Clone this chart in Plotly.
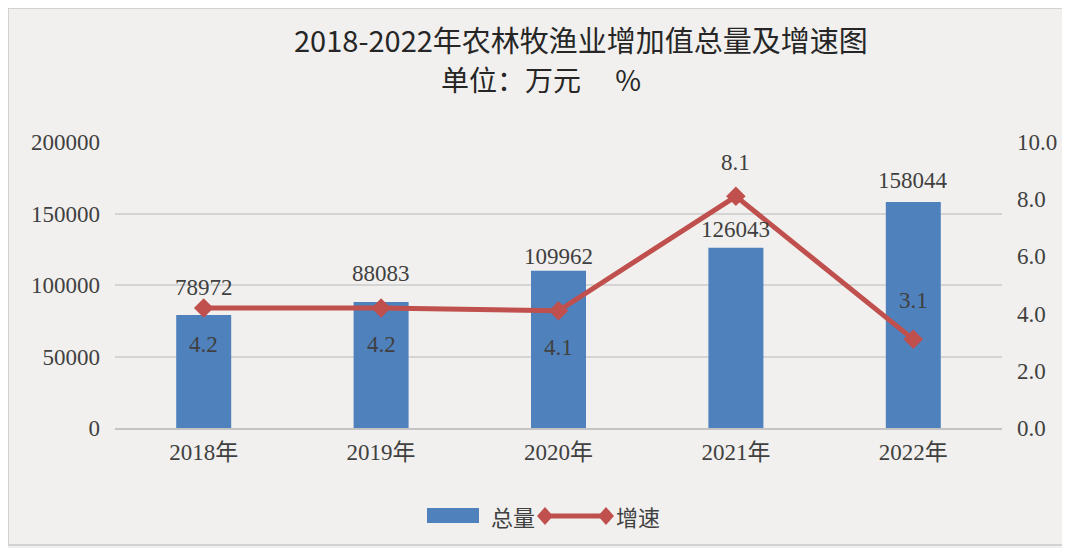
import plotly.graph_objects as go

# data
years = ["2018年", "2019年", "2020年", "2021年", "2022年"]
total = [78972, 88083, 109962, 126043, 158044]      # 万元
growth = [4.2, 4.2, 4.1, 8.1, 3.1]                   # %

# label offsets (px) as placed in the original
bar_label_shift = [28, 29, 14, 18, 22]
line_label_shift = [-37, -37, -37, 34, 39]

SERIF = "Liberation Serif, Times New Roman, Noto Sans CJK SC, serif"
CJK = "Noto Sans CJK SC, sans-serif"
TXT = "#404040"
BAR = "#4F81BD"
LINE = "#C0504D"

# page body adds an 8px margin, so the figure is 8px smaller than the window
W, H = 1062, 540
ML, MT, PW, PH = 107, 134, 887, 286


def px(x):   # figure pixel -> paper x
    return (x - ML) / PW


def py(y):   # figure pixel -> paper y
    return (MT + PH - y) / PH


fig = go.Figure()

fig.add_trace(go.Bar(
    x=years, y=total, name="总量",
    marker=dict(color=BAR, line=dict(width=0)),
    width=0.31,
))

fig.add_trace(go.Scatter(
    x=years, y=growth, name="增速", yaxis="y2",
    mode="lines+markers",
    line=dict(color=LINE, width=5),
    marker=dict(symbol="diamond", size=15, color=LINE),
))

annotations = []
for yr, v, s in zip(years, total, bar_label_shift):
    annotations.append(dict(
        x=yr, y=v, xref="x", yref="y", text=str(v), showarrow=False,
        yanchor="middle", yshift=s, font=dict(family=SERIF, size=23, color=TXT),
    ))
for yr, v, s in zip(years, growth, line_label_shift):
    annotations.append(dict(
        x=yr, y=v, xref="x", yref="y2", text=f"{v:.1f}", showarrow=False,
        yanchor="middle", yshift=s, font=dict(family=SERIF, size=23, color=TXT),
    ))

# two-line title
annotations.append(dict(
    x=px(573), y=py(31), xref="paper", yref="paper", showarrow=False,
    text="2018-2022年农林牧渔业增加值总量及增速图",
    font=dict(family=CJK, size=29, color="#262626"), yanchor="middle",
))
annotations.append(dict(
    x=px(533), y=py(71), xref="paper", yref="paper", showarrow=False,
    text="单位：万元　 %",
    font=dict(family=CJK, size=28, color="#262626"), yanchor="middle",
))

# hand-drawn legend (bar swatch + line with diamonds at both ends)
LEG_Y = 508
bar_name = fig.data[0].name
line_name = fig.data[1].name
annotations.append(dict(
    x=px(481), y=py(LEG_Y), xref="paper", yref="paper", showarrow=False,
    text=bar_name, xanchor="left", yanchor="middle",
    font=dict(family=CJK, size=22, color=TXT),
))
annotations.append(dict(
    x=px(606), y=py(LEG_Y), xref="paper", yref="paper", showarrow=False,
    text=line_name, xanchor="left", yanchor="middle",
    font=dict(family=CJK, size=22, color=TXT),
))


def diamond(cx, cy, hw=8, hh=9):
    pts = [(cx, cy - hh), (cx + hw, cy), (cx, cy + hh), (cx - hw, cy)]
    d = "M " + " L ".join(f"{px(a):.5f},{py(b):.5f}" for a, b in pts) + " Z"
    return dict(type="path", xref="paper", yref="paper", path=d,
                fillcolor=LINE, line=dict(width=0))


shapes = [
    dict(type="rect", xref="paper", yref="paper",
         x0=px(0), x1=px(1056), y0=py(537), y1=py(0),
         line=dict(color="#c8c8c8", width=1.5), layer="below"),
    dict(type="rect", xref="paper", yref="paper",
         x0=px(419), x1=px(471), y0=py(LEG_Y + 7), y1=py(LEG_Y - 8),
         fillcolor=BAR, line=dict(width=0)),
    dict(type="line", xref="paper", yref="paper",
         x0=px(537), x1=px(598), y0=py(LEG_Y), y1=py(LEG_Y),
         line=dict(color=LINE, width=5)),
    diamond(537, LEG_Y),
    diamond(598, LEG_Y),
]

fig.update_layout(
    width=W, height=H,
    margin=dict(l=ML, r=W - ML - PW, t=MT, b=H - MT - PH),
    paper_bgcolor="#f1f0ee",
    plot_bgcolor="rgba(0,0,0,0)",
    showlegend=False,
    bargap=0.69,
    xaxis=dict(
        tickfont=dict(family=SERIF, size=23, color=TXT),
        showgrid=False, showline=True, linecolor="#c4c4c4", linewidth=1.5,
        ticks="", ticklabelstandoff=3,
    ),
    yaxis=dict(
        range=[0, 200000], dtick=50000, tickformat="d",
        tickfont=dict(family=SERIF, size=23, color=TXT),
        showgrid=True, gridcolor="#d4d4d4", gridwidth=1.5,
        zeroline=False, showline=False, ticks="", ticklabelstandoff=14,
    ),
    yaxis2=dict(
        range=[0, 10], dtick=2, tickformat=".1f", overlaying="y", side="right",
        tickfont=dict(family=SERIF, size=23, color=TXT),
        showgrid=False, zeroline=False, showline=False, ticks="",
        ticklabelstandoff=14,
    ),
    annotations=annotations,
    shapes=shapes,
)

fig.write_html("out.html")
